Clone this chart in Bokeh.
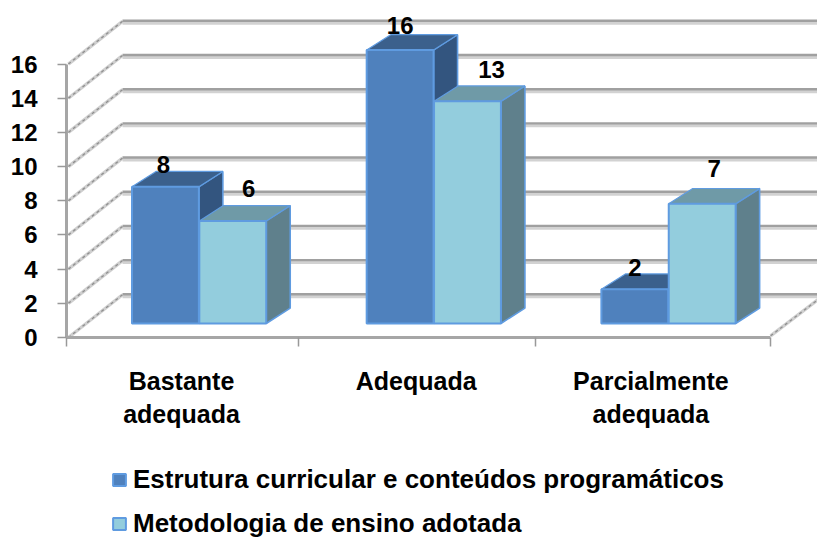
from bokeh.embed import file_html
from bokeh.resources import INLINE
from bokeh.plotting import figure
from bokeh.models import Range1d, FixedTicker, Legend, LegendItem
from bokeh.core.properties import value

categories = ["Bastante\nadequada", "Adequada", "Parcialmente\nadequada"]
series_names = ["Estrutura curricular e conteúdos programáticos", "Metodologia de ensino adotada"]
estrutura = [8, 16, 2]
metodologia = [6, 13, 7]
y_ticks = [0, 2, 4, 6, 8, 10, 12, 14, 16]

W, H = 817, 539
FONT = "Liberation Sans"
PX_X = 234.7      # pixels per category
PX_Y = 17.09      # pixels per value unit
ML, MB = 66, H - 337
X_END = (W - ML) / PX_X

p = figure(width=W, height=H, output_backend="svg", toolbar_location=None,
           x_range=Range1d(-ML / PX_X, X_END), y_range=Range1d(-MB / PX_Y, (H - MB) / PX_Y),
           min_border_left=0, min_border_right=0, min_border_top=0, min_border_bottom=0,
           outline_line_color=None, background_fill_color="white", border_fill_color="white")
p.grid.visible = False

# wall depth
WDX, WDY = 56 / PX_X, 2.5
xs = [0.008] * len(y_ticks)
ys = list(y_ticks)
xb = [WDX] * len(y_ticks)
yb = [v + WDY for v in y_ticks]
xr = [X_END] * len(y_ticks)
p.segment(xb, [v - 0.1 for v in yb], xr, [v - 0.1 for v in yb], line_color="#d2d2d2", line_width=3.5)
p.segment(xb, [v + 0.03 for v in yb], xr, [v + 0.03 for v in yb], line_color="#a0a0a0", line_width=2.4)
sx0 = xs + [3.0]
sy0 = ys + [0.1]
sx1 = xb + [3.0 + WDX]
sy1 = yb + [WDY + 0.1]
p.segment(sx0, sy0, sx1, sy1, line_color="#cfcfcf", line_width=3.4)
p.segment(sx0, sy0, sx1, sy1, line_color="#8f8f8f", line_width=1.3, line_dash="3 3")

# bars
BAR_X = [0.279, 0.566]
BW = 0.285
DX, DY = 24 / PX_X, 0.9
Y0 = 0.82
COL = [("#4f81bd", "#3b608c", "#33557f"), ("#93cddd", "#6f9aa7", "#5f808c")]
EDGE = "#5f9be0"
LAB_DX = [[-2, 16], [0, 24], [0, 12]]
LAB_DY = [[22, 32], [25, 32], [22, 35]]

front_r = [None, None]
for c in range(3):
    for s, vals in enumerate((estrutura, metodologia)):
        v = vals[c]
        x0 = c + BAR_X[s]
        x1 = x0 + BW
        y0, y1 = Y0, Y0 + v
        fc, tc, sc = COL[s]
        p.patch([x1, x1 + DX, x1 + DX, x1], [y0, y0 + DY, y1 + DY, y1], fill_color=sc, line_color=EDGE, line_width=1.6)
        p.patch([x0, x0 + DX, x1 + DX, x1], [y1, y1 + DY, y1 + DY, y1], fill_color=tc, line_color=EDGE, line_width=1.2)
        r = p.patch([x0, x1, x1, x0], [y0, y0, y1, y1], fill_color=fc, line_color=EDGE, line_width=2)
        front_r[s] = r
        p.text([x0 + BW / 2], [y1], text=[str(v)], x_offset=[LAB_DX[c][s]], y_offset=[-LAB_DY[c][s]],
               text_align="center", text_baseline="middle", text_font=value(FONT),
               text_font_style="bold", text_font_size="24px", text_color="black")

# axes
ax = p.yaxis[0]
ax.fixed_location = 0
ax.bounds = (0, 16)
ax.ticker = FixedTicker(ticks=y_ticks)
ax.axis_line_color = "#a6a6a6"
ax.axis_line_width = 3
ax.major_tick_line_color = "#999999"
ax.major_tick_line_width = 1.5
ax.major_tick_in = 0
ax.major_tick_out = 9
ax.minor_tick_line_color = None
ax.major_label_standoff = 20
ax.major_label_text_font = FONT
ax.major_label_text_font_style = "bold"
ax.major_label_text_font_size = "24px"
ax.major_label_text_color = "black"

bx = p.xaxis[0]
bx.fixed_location = 0
bx.bounds = (0, 3)
LABEL_TICKS = [0.49, 1.49, 2.49]
bx.ticker = FixedTicker(ticks=LABEL_TICKS, minor_ticks=[0, 0.99, 2, 3])
bx.major_label_overrides = dict(zip(LABEL_TICKS, categories))
bx.axis_line_color = "#a6a6a6"
bx.axis_line_width = 3
bx.major_tick_line_color = None
bx.major_tick_in = 0
bx.major_tick_out = 0
bx.minor_tick_line_color = "#999999"
bx.minor_tick_line_width = 1.5
bx.minor_tick_in = 0
bx.minor_tick_out = 9
bx.major_label_standoff = 20
bx.major_label_text_font = FONT
bx.major_label_text_font_style = "bold"
bx.major_label_text_font_size = "25px"
bx.major_label_text_color = "black"

legend = Legend(items=[LegendItem(label=series_names[0], renderers=[front_r[0]]),
                       LegendItem(label=series_names[1], renderers=[front_r[1]])],
                location=(111, 0), orientation="vertical",
                background_fill_alpha=0, border_line_color=None, padding=0, margin=0,
                spacing=13, glyph_width=16, glyph_height=15, label_standoff=6,
                label_text_font=FONT, label_text_font_style="bold", label_text_font_size="26px",
                label_text_color="black", label_height=30)
p.add_layout(legend, "center")

open("out.html", "w").write(file_html(p, INLINE))
